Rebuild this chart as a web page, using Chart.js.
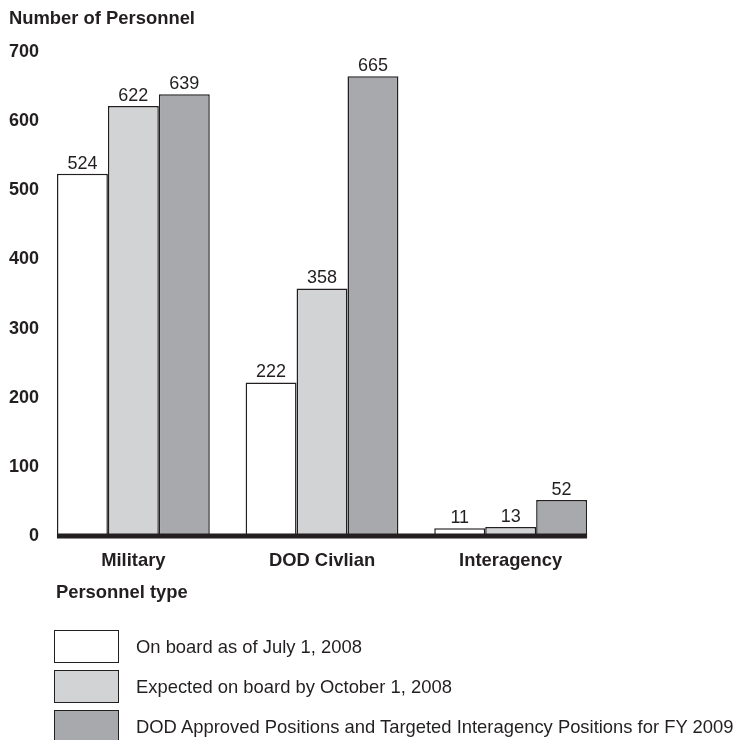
<!DOCTYPE html>
<html lang="en">

<head>
    <meta charset="UTF-8">
    <script src="https://cdn.jsdelivr.net/npm/chart.js"></script>
    <title>Number of Personnel</title>
    <style>
        body {
            margin: 0;
            background: #fff;
            font-family: "Liberation Sans", Arial, Helvetica, sans-serif;
            color: #231f20;
        }

        .wrap {
            position: relative;
            width: 739px;
            height: 740px;
        }

        .legend-row {
            position: absolute;
            left: 54px;
            height: 33px;
            display: flex;
            align-items: center;
            font-size: 18.4px;
            white-space: nowrap;
        }

        .legend-box {
            width: 63px;
            height: 31px;
            border: 1px solid #231f20;
            margin-right: 17px;
        }
    </style>
</head>

<body>
    <div class="wrap">
        <canvas id="personnelChart" width="739" height="740"></canvas>
        <div id="legend"></div>
    </div>
    <script>
        const categories = ['Military', 'DOD Civlian', 'Interagency'];
        const onBoard = [524, 222, 11];
        const expectedOnBoard = [622, 358, 13];
        const approvedPositions = [639, 665, 52];
        const seriesNames = [
            'On board as of July 1, 2008',
            'Expected on board by October 1, 2008',
            'DOD Approved Positions and Targeted Interagency Positions for FY 2009'
        ];
        const seriesColors = ['#ffffff', '#d1d3d4', '#a7a9ac'];
        const yMax = 700;
        const yStep = 100;

        const ink = '#231f20';
        const fontFamily = '"Liberation Sans", Arial, Helvetica, sans-serif';

        // valores em cima das barras
        const valueLabels = {
            id: 'valueLabels',
            afterDatasetsDraw(chart) {
                const ctx = chart.ctx;
                ctx.save();
                ctx.font = '18px ' + fontFamily;
                ctx.fillStyle = ink;
                ctx.textAlign = 'center';
                ctx.textBaseline = 'alphabetic';
                chart.data.datasets.forEach((ds, i) => {
                    chart.getDatasetMeta(i).data.forEach((bar, j) => {
                        ctx.fillText(ds.data[j], bar.x, bar.y - 5);
                    });
                });
                ctx.restore();
            }
        };

        // linha grossa da base + titulo do eixo x
        const baseLine = {
            id: 'baseLine',
            afterDatasetsDraw(chart) {
                const ctx = chart.ctx;
                const first = chart.getDatasetMeta(0).data[0];
                const lastMeta = chart.getDatasetMeta(chart.data.datasets.length - 1);
                const last = lastMeta.data[lastMeta.data.length - 1];
                const y0 = chart.scales.y.getPixelForValue(0);
                const left = first.x - first.width / 2;
                const right = last.x + last.width / 2;
                ctx.save();
                ctx.strokeStyle = ink;
                ctx.lineWidth = 5;
                ctx.beginPath();
                ctx.moveTo(left, y0);
                ctx.lineTo(right, y0);
                ctx.stroke();

                ctx.font = 'bold 18.4px ' + fontFamily;
                ctx.fillStyle = ink;
                ctx.textAlign = 'left';
                ctx.textBaseline = 'middle';
                ctx.fillText('Personnel type', left - 1, 593);
                ctx.restore();
            }
        };

        const seriesData = [onBoard, expectedOnBoard, approvedPositions];

        new Chart(document.getElementById('personnelChart'), {
            type: 'bar',
            data: {
                labels: categories,
                datasets: seriesData.map((d, i) => ({
                    label: seriesNames[i],
                    data: d,
                    backgroundColor: seriesColors[i],
                    borderColor: ink,
                    borderWidth: 1.5,
                    categoryPercentage: 0.81,
                    barPercentage: 1
                }))
            },
            options: {
                responsive: false,
                animation: false,
                layout: {
                    padding: { left: 9, right: 134, top: 0, bottom: 154 }
                },
                plugins: {
                    legend: { display: false },
                    tooltip: { enabled: false },
                    title: {
                        display: true,
                        text: 'Number of Personnel',
                        align: 'start',
                        color: ink,
                        font: { family: fontFamily, size: 18.4, weight: 'bold' },
                        padding: { top: 8, bottom: 22 }
                    }
                },
                scales: {
                    x: {
                        grid: { display: false, drawTicks: false },
                        border: { display: false },
                        ticks: {
                            color: ink,
                            padding: 14,
                            font: { family: fontFamily, size: 18.4, weight: 'bold' }
                        }
                    },
                    y: {
                        min: 0,
                        max: yMax,
                        grid: { display: false, drawTicks: false },
                        border: { display: false },
                        ticks: {
                            stepSize: yStep,
                            color: ink,
                            padding: 0,
                            font: { family: fontFamily, size: 18, weight: 'bold' }
                        }
                    }
                }
            },
            plugins: [valueLabels, baseLine]
        });

        // legenda em html
        const legendTops = [630, 670, 710];
        const legend = document.getElementById('legend');
        seriesNames.forEach((name, i) => {
            const row = document.createElement('div');
            row.className = 'legend-row';
            row.style.top = legendTops[i] + 'px';
            const box = document.createElement('div');
            box.className = 'legend-box';
            box.style.background = seriesColors[i];
            const txt = document.createElement('span');
            txt.textContent = name;
            row.appendChild(box);
            row.appendChild(txt);
            legend.appendChild(row);
        });
    </script>
</body>

</html>
